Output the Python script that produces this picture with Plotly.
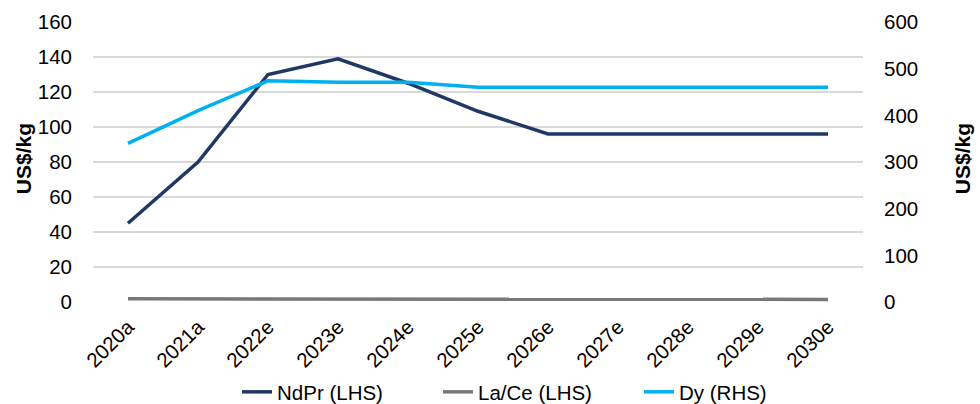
import plotly.graph_objects as go

years = ["2020a", "2021a", "2022e", "2023e", "2024e", "2025e",
         "2026e", "2027e", "2028e", "2029e", "2030e"]
ndpr = [45, 80, 130, 139, 125, 109, 96, 96, 96, 96, 96]
lace = [1.8, 1.8, 1.5, 1.5, 1.5, 1.5, 1.5, 1.5, 1.5, 1.5, 1.5]
dy = [340, 410, 474, 471, 471, 460, 460, 460, 460, 460, 460]

FONT = "Liberation Sans, Arial, sans-serif"
FS = 20.5

fig = go.Figure()
fig.add_trace(go.Scatter(x=years, y=ndpr, name="NdPr (LHS)", mode="lines",
                         line=dict(color="#1f3864", width=3.5)))
fig.add_trace(go.Scatter(x=years, y=lace, name="La/Ce (LHS)", mode="lines",
                         line=dict(color="#787878", width=3.5)))
fig.add_trace(go.Scatter(x=years, y=dy, name="Dy (RHS)", mode="lines",
                         line=dict(color="#00b0f0", width=3.5), yaxis="y2"))

fig.update_layout(
    width=980, height=404,
    margin=dict(l=93, r=117, t=22, b=102, autoexpand=False),
    paper_bgcolor="white", plot_bgcolor="white",
    font=dict(family=FONT, size=FS, color="#000000"),
    showlegend=True,
    legend=dict(orientation="h", x=237 / 980, xref="container", xanchor="left",
                y=1 - 392 / 404, yref="container", yanchor="middle",
                entrywidth=156, entrywidthmode="pixels",
                font=dict(size=FS), bgcolor="rgba(0,0,0,0)"),
    xaxis=dict(type="category", range=[-0.5, 10.5], tickangle=-45,
               showgrid=False, showline=False, zeroline=False, ticks="",
               ticklabelstandoff=8, tickfont=dict(size=FS), automargin=False),
    yaxis=dict(range=[0, 160], dtick=20, showgrid=True, gridcolor="#d9d9d9",
               gridwidth=1.5, zeroline=False, showline=False, ticks="",
               ticklabelstandoff=20, tickfont=dict(size=FS), automargin=False),
    yaxis2=dict(range=[0, 600], dtick=100, overlaying="y", side="right",
                showgrid=False, zeroline=False, showline=False, ticks="",
                ticklabelstandoff=20, tickfont=dict(size=FS), automargin=False),
    annotations=[
        dict(text="<b>US$/kg</b>", xref="paper", yref="paper",
             x=(23 - 93) / 770, y=0.51, textangle=-90, showarrow=False,
             xanchor="center", yanchor="middle", font=dict(size=21)),
        dict(text="<b>US$/kg</b>", xref="paper", yref="paper",
             x=(962 - 93) / 770, y=0.51, textangle=-90, showarrow=False,
             xanchor="center", yanchor="middle", font=dict(size=21)),
    ],
)

fig.write_html("out.html")
